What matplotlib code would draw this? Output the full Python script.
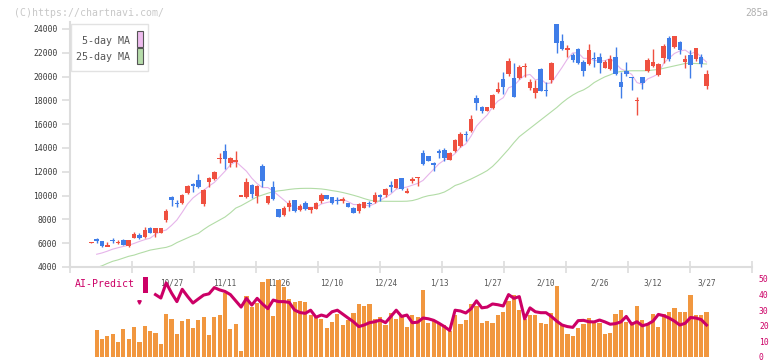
import matplotlib
matplotlib.use('Agg')
import matplotlib.pyplot as plt
import numpy as np
from matplotlib.patches import Rectangle
from matplotlib.lines import Line2D

# ---------------- data ----------------
opens = [6060, 6290, 6185, 5765, 6260, 6060, 6269, 5737, 6465, 6717,
         6521, 7277, 6885, 6885, 7949, 9882, 9400, 9350, 10190, 10900,
         11311, 9294, 11115, 11367, 13050, 13775, 12767, 12880, 9940, 9910,
         10890, 9966, 12515, 9406, 10694, 8846, 8342, 9070, 9602, 8790,
         9406, 8790, 8902, 9518, 10050, 9854, 9600, 9520, 9350, 8986,
         8706, 8986, 9380, 9434, 9990, 10050, 10830, 10666, 11506, 10280,
         11280, 11500, 13607, 13327, 12680, 13690, 13860, 12991, 13747, 14168,
         15180, 15430, 18173, 17417, 17137, 17333, 18733, 19798, 20218, 19854,
         19854, 20800, 19013, 18649, 20638, 18850, 19714, 24400, 23019, 22280,
         21814, 22318, 21254, 21030, 21560, 21618, 20750, 20610, 21646, 19546,
         20470, 19960, 17950, 19938, 20498, 20918, 20134, 21534, 23215, 22515,
         22879, 21198, 21814, 21450, 21674, 19238]
highs = [6090, 6465, 6200, 6073, 6437, 6241, 6353, 6300, 6941, 6857,
         7389, 7360, 7300, 7290, 8874, 9966, 9630, 10106, 10890, 11087,
         11815, 10550, 11530, 12095, 13552, 14336, 13271, 13747, 9970, 11451,
         10950, 10890, 12627, 10000, 11255, 8900, 9126, 9630, 9630, 9294,
         9546, 9050, 9490, 10246, 10060, 9880, 9910, 9910, 9380, 9000,
         9350, 9460, 9546, 10302, 10134, 10611, 11199, 11400, 11520, 10611,
         11590, 11550, 13832, 13350, 12851, 13888, 13972, 13650, 14784, 15350,
         15430, 16773, 18453, 17529, 17450, 18500, 19574, 20358, 21590, 21114,
         20974, 21170, 19798, 19714, 20700, 19574, 21200, 24419, 23579, 22655,
         21954, 22400, 21394, 22739, 22038, 21954, 21394, 21814, 22515, 20414,
         21198, 19994, 18257, 19994, 21590, 22318, 21170, 22711, 23411, 23411,
         23019, 21814, 22234, 22375, 21866, 20554]
lows = [6050, 5989, 5653, 5760, 6045, 5905, 5830, 5700, 6440, 6381,
        6465, 6860, 6493, 6870, 7753, 9154, 9070, 9294, 10134, 10330,
        10611, 9154, 10750, 11300, 12711, 12207, 12431, 12431, 9930, 9770,
        9770, 9350, 10694, 9294, 9630, 8229, 8300, 8706, 8650, 8733,
        8790, 8565, 8874, 9406, 9700, 9300, 9294, 9406, 9040, 8510,
        8510, 8950, 9014, 9406, 9574, 9910, 10330, 10640, 10500, 10246,
        11031, 10806, 12571, 12900, 12095, 13131, 12935, 12950, 13636, 14050,
        14620, 15372, 17193, 16969, 17100, 17280, 18649, 18537, 20078, 18257,
        19798, 19938, 18873, 18229, 18760, 18369, 19434, 22010, 22270, 21675,
        21254, 21100, 20078, 20974, 20834, 20330, 20694, 20554, 20134, 18229,
        20078, 18873, 16773, 18957, 20414, 20834, 20078, 21114, 21338, 22375,
        21898, 20750, 19910, 21338, 20834, 18957]
closes = [6080, 6250, 5765, 5790, 6220, 6090, 5849, 6269, 6773, 6465,
          7109, 6885, 7277, 7277, 8733, 9630, 9300, 10050, 10834, 10850,
          10694, 10470, 11506, 12011, 13200, 13075, 13131, 12930, 9960, 11171,
          10134, 10834, 11255, 9994, 9714, 8229, 8958, 9350, 8706, 9126,
          8874, 9014, 9406, 10050, 9742, 9350, 9550, 9740, 9070, 8565,
          9266, 9434, 9330, 10050, 9940, 10554, 10790, 11367, 10554, 10330,
          11330, 11535, 12627, 12935, 12630, 13640, 13131, 13607, 14672, 15200,
          15130, 16436, 17753, 17137, 17417, 18453, 18957, 19153, 21310, 18313,
          20834, 20870, 19574, 19013, 18817, 18800, 21170, 22795, 22290, 22340,
          21394, 21170, 20498, 22234, 21510, 21170, 21254, 21478, 20190, 19153,
          20218, 19920, 18000, 19490, 21394, 21198, 21058, 22571, 21478, 23411,
          22234, 21478, 20974, 22375, 21058, 20218]

# 5-day MA (values for candles 1..115)
ma5 = [5070, 5180, 5330, 5500, 5620, 5730, 5830, 5980, 6150,
       6300, 6420, 6750, 6990, 7110, 7500, 7950, 8600, 9300, 9800,
       10150, 10450, 10800, 11106, 11576, 12052, 12585, 12869, 12459, 12053,
       11465, 11006, 10671, 10678, 10386, 10005, 9630, 9249, 8991, 8874,
       9003, 9014, 9025, 9294, 9417, 9512, 9620, 9686, 9490, 9255,
       9238, 9215, 9133, 9329, 9604, 9862, 10133, 10540, 10641, 10719,
       10874, 11023, 11275, 11751, 12211, 12673, 12993, 13189, 13536, 14050,
       14348, 15009, 15838, 16331, 16775, 17439, 17943, 18223, 19058, 19237,
       19713, 20096, 20180, 19721, 19822, 19415, 19475, 20119, 20774, 21479,
       21998, 21998, 21538, 21527, 21361, 21316, 21333, 21529, 21120, 20649,
       20459, 20192, 19496, 19356, 19804, 20000, 20228, 21142, 21540, 21943,
       22150, 22234, 21915, 22094, 21624, 21221]
# 25-day MA (values for candles 1..115)
ma25 = [3950, 4100, 4300, 4480, 4600, 4750, 4900, 5000, 5150,
        5280, 5420, 5500, 5580, 5650, 5800, 6050, 6250, 6450, 6650,
        6820, 7150, 7450, 7700, 7950, 8200, 8550, 8950, 9150, 9400,
        9650, 9900, 10050, 10200, 10330, 10400, 10450, 10520, 10570, 10600,
        10610, 10610, 10590, 10560, 10500, 10420, 10350, 10260, 10150, 10030,
        9900, 9750, 9620, 9540, 9530, 9520, 9520, 9520, 9520, 9530,
        9580, 9700, 9870, 9990, 10060, 10150, 10300, 10550, 10850, 11000,
        11200, 11400, 11620, 11850, 12100, 12450, 12900, 13400, 13900, 14450,
        14950, 15300, 15650, 16000, 16350, 16700, 17050, 17400, 17800, 18150,
        18450, 18700, 18880, 19150, 19500, 19750, 19980, 20150, 20350, 20430,
        20480, 20490, 20490, 20490, 20500, 20550, 20600, 20700, 20800, 20900,
        21000, 21100, 21120, 21100, 21080, 21060]

# lower panel: bars for candles 1..115, AI-Predict line for candles 12..115
bars = [17.3, 11.5, 13.5, 14.7, 9.6, 17.9, 11.5, 19.2, 9.6,
        19.9, 16.7, 15.4, 8.3, 27.6, 24.4, 14.7, 23.1, 24.4, 18.6,
        23.7, 25.6, 14.1, 25.6, 26.9, 41.0, 17.9, 21.2, 3.8, 39.1,
        32.1, 34.6, 48.1, 50.0, 26.3, 49.4, 44.9, 37.2, 35.3, 35.9,
        35.3, 26.9, 25.6, 24.4, 18.6, 22.4, 27.6, 20.5, 23.7, 28.2,
        34.0, 32.7, 34.0, 24.4, 25.6, 20.5, 28.2, 24.4, 26.9, 19.2,
        26.9, 25.6, 42.9, 21.8, 23.7, 21.8, 20.5, 16.7, 26.9, 21.4,
        23.7, 34.0, 32.7, 21.6, 23.1, 22.0, 27.1, 28.8, 35.9, 39.5,
        30.1, 24.4, 26.9, 26.9, 21.8, 21.2, 28.2, 45.5, 21.2, 14.7,
        13.5, 18.6, 21.2, 24.8, 21.6, 21.6, 14.7, 15.2, 27.6, 30.1,
        22.2, 22.4, 32.7, 23.7, 21.2, 27.6, 19.4, 27.6, 28.8, 31.4,
        28.8, 28.8, 39.5, 26.9, 26.9, 28.8]
ai_predict = [40.0, 37.8, 47.5, 41.0, 35.5, 43.4, 38.8, 34.6, 37.2, 39.7,
              40.5, 44.5, 43.0, 42.0, 40.0, 36.0, 32.0, 37.6, 33.3, 37.6,
              34.0, 31.0, 36.5, 35.5, 35.5, 35.0, 30.1, 28.5, 28.0, 30.0,
              25.5, 26.9, 25.9, 29.0, 30.0, 27.5, 25.0, 22.6, 19.5, 20.5,
              22.0, 22.6, 23.7, 22.0, 26.0, 30.0, 26.0, 26.9, 22.0, 22.3,
              25.0, 24.5, 23.5, 21.6, 19.5, 17.0, 30.0, 29.5, 28.2, 31.0,
              36.0, 31.5, 32.0, 34.0, 33.5, 32.7, 40.0, 37.6, 38.7, 24.5,
              31.5, 29.0, 28.4, 28.4, 26.0, 23.0, 20.5, 19.5, 19.0, 23.3,
              23.5, 22.6, 22.5, 23.7, 22.5, 21.0, 21.4, 22.5, 26.0, 21.0,
              22.6, 20.0, 21.0, 23.0, 27.3, 26.5, 25.0, 23.0, 20.5, 21.6,
              25.3, 25.0, 24.0, 20.5]

date_labels = ['10/27', '11/11', '11/26', '12/10', '12/24', '1/13',
               '1/27', '2/10', '2/26', '3/12', '3/27']
date_label_idx = [15, 25, 35, 45, 55, 65, 75, 85, 95, 105, 115]
price_ticks = list(range(4000, 24001, 2000))
ai_ticks = [0, 10, 20, 30, 40, 50]

# ---------------- style ----------------
RED = '#ef5040'
BLUE = '#3f7de8'
PINK = '#e6b4ea'
GREEN = '#b2dca6'
ORANGE = '#f1973f'
MAGENTA = '#cc0066'
AXIS = '#dddddd'
TXT = '#555555'

plt.rcParams['font.family'] = ['DejaVu Sans Mono']

W, H = 772, 361
fig = plt.figure(figsize=(W / 100, H / 100), dpi=100)
fig.patch.set_facecolor('white')


def fx(px):
    return px / W


def fy(py):
    return 1 - py / H


X0, X1 = 70, 752
ax = fig.add_axes([fx(X0), fy(267), fx(X1) - fx(X0), fy(22) - fy(267)])
ax2 = fig.add_axes([fx(X0), fy(357), fx(X1) - fx(X0), fy(279) - fy(357)])

xmin, xmax = -3.98, 123.5

# ---------------- candles ----------------
o = np.array(opens, float)
h = np.array(highs, float)
l = np.array(lows, float)
c = np.array(closes, float)
x = np.arange(len(c))
cols = np.where(c >= o, RED, BLUE)
ax.vlines(x, l, h, colors=cols, lw=1.0, zorder=3)
body_lo = np.minimum(o, c)
body_h = np.abs(c - o)
small = body_h < 120
body_lo = np.where(small, (o + c) / 2 - 60, body_lo)
body_h = np.where(small, 120, body_h)
ax.bar(x, body_h, bottom=body_lo, width=0.84, color=cols, linewidth=0, zorder=4)

xm = np.arange(1, len(c))
ax.plot(xm, ma5, color=PINK, lw=0.8, zorder=2)
ax.plot(xm, ma25, color=GREEN, lw=0.8, zorder=2)

ax.set_xlim(xmin, xmax)
ax.set_ylim(4000, 24588)
ax.set_yticks(price_ticks)
ax.set_yticklabels([str(v) for v in price_ticks], fontsize=5.8, color='#3a3a3a')
ax.set_xticks(np.linspace(xmin, xmax, 12))
ax.tick_params(axis='x', direction='inout', length=8, width=1.2, color=AXIS,
               labelbottom=False)
ax.tick_params(axis='y', direction='out', length=6, width=1.2, color=AXIS, pad=3)
for s in ['top', 'right']:
    ax.spines[s].set_visible(False)
for s in ['left', 'bottom']:
    ax.spines[s].set_color(AXIS)
    ax.spines[s].set_linewidth(1.5)
ax.patch.set_alpha(0)

# date labels (drawn below the lower panel's bars)
for idx, lab in zip(date_label_idx, date_labels):
    ax.text(idx, (267 - 282.5) / 245, lab, transform=ax.get_xaxis_transform(),
            ha='center', va='center', fontsize=5.6, color=TXT, clip_on=False,
            zorder=1)

# ---------------- lower panel ----------------
ax2.bar(xm, bars, width=0.78, color=ORANGE, linewidth=0, zorder=2)
xa = np.arange(12, 12 + len(ai_predict))
ax2.plot(xa, ai_predict, color=MAGENTA, lw=2.2, zorder=3, solid_joinstyle='round')
ax2.set_xlim(xmin, xmax)
ax2.set_ylim(0, 50)
ax2.patch.set_alpha(0)
for s in ax2.spines.values():
    s.set_visible(False)
ax2.set_xticks([])
ax2.yaxis.tick_right()
ax2.set_yticks(ai_ticks)
ax2.set_yticklabels([str(v) for v in ai_ticks], fontsize=5.8, color=MAGENTA)
ax2.tick_params(axis='y', length=0, pad=5)
for t in ax2.get_yticklabels():
    t.set_va('center_baseline')

# ---------------- legends & annotations ----------------
fig.patches.append(Rectangle((fx(70.7), fy(71)), fx(148.3) - fx(70.7), fy(24) - fy(71),
                             transform=fig.transFigure, facecolor='white',
                             edgecolor='#e2e2e2', lw=1.0, zorder=10))
fig.text(fx(130), fy(41), '5-day MA', ha='right', va='center', fontsize=7.2,
         color=TXT, zorder=11)
fig.text(fx(130), fy(57), '25-day MA', ha='right', va='center', fontsize=7.2,
         color=TXT, zorder=11)
fig.patches.append(Rectangle((fx(136.5), fy(46.5)), fx(142.5) - fx(136.5), fy(31) - fy(46.5),
                             transform=fig.transFigure, facecolor='#eebcee',
                             edgecolor='#555555', lw=0.8, zorder=11))
fig.patches.append(Rectangle((fx(136.5), fy(63.5)), fx(142.5) - fx(136.5), fy(48.5) - fy(63.5),
                             transform=fig.transFigure, facecolor='#b6dcaa',
                             edgecolor='#555555', lw=0.8, zorder=11))

fig.text(fx(135), fy(284), 'AI-Predict', ha='right', va='center', fontsize=7.1,
         color=MAGENTA)
fig.patches.append(Rectangle((fx(142.7), fy(292.7)), fx(148.3) - fx(142.7), fy(276.7) - fy(292.7),
                             transform=fig.transFigure, facecolor=MAGENTA,
                             edgecolor='none'))
fig.lines.append(Line2D([fx(139)], [fy(301.5)], marker='v', markersize=2.5,
                        color=MAGENTA, transform=fig.transFigure))

fig.text(fx(14), fy(12.5), '(C)https://chartnavi.com/', ha='left', va='center',
         fontsize=7.1, color='#c8c8c8')
fig.text(fx(768), fy(12.5), '285a', ha='right', va='center', fontsize=6.9,
         color='#b0b0b0')

fig.savefig('out.png', dpi=100)
